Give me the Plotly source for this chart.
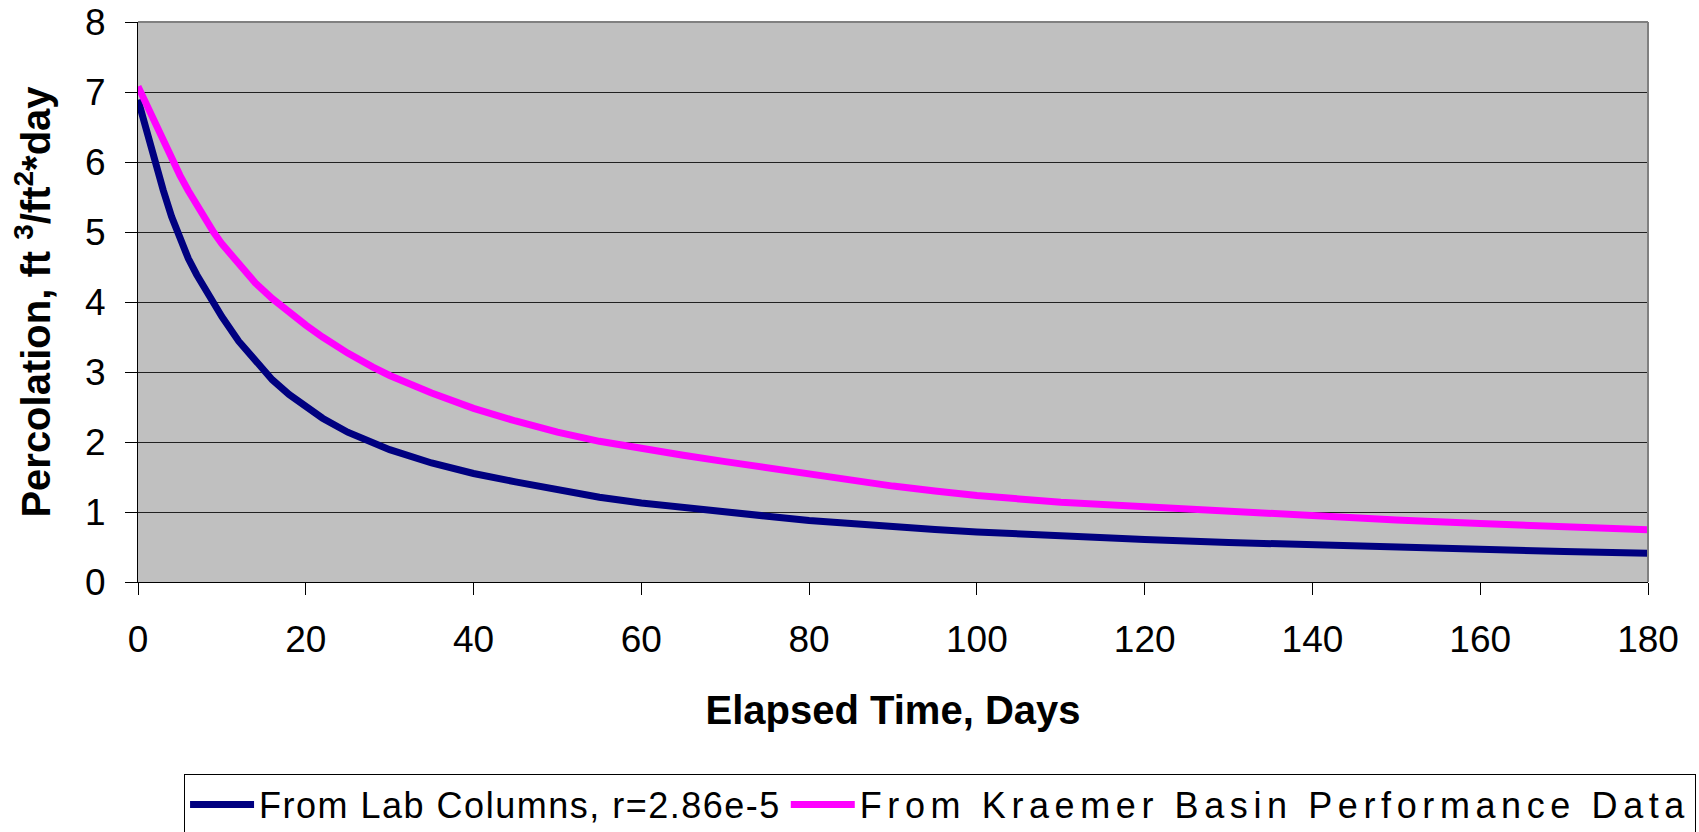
import plotly.graph_objects as go

# Elapsed time (days) at which each percolation value is tabulated
days = [0, 1, 2, 3, 4, 5, 6, 7, 8, 9, 10, 12, 14, 16, 18, 20, 22, 25, 28, 30,
        35, 40, 45, 50, 55, 60, 65, 70, 75, 80, 85, 90, 95, 100, 110, 120,
        130, 140, 150, 160, 170, 180]

# Percolation rate, ft3/ft2*day, predicted from the lab columns
lab_columns = [6.89, 6.43, 6.00, 5.60, 5.22, 4.90, 4.62, 4.39, 4.18, 3.98,
               3.79, 3.44, 3.15, 2.89, 2.68, 2.50, 2.34, 2.14, 1.98, 1.89,
               1.70, 1.55, 1.43, 1.32, 1.21, 1.13, 1.06, 1.00, 0.94, 0.88,
               0.83, 0.79, 0.75, 0.715, 0.655, 0.607, 0.565, 0.527, 0.493,
               0.462, 0.434, 0.41]

# Percolation rate from the Kraemer basin performance record
kraemer_basin = [7.08, 6.82, 6.56, 6.30, 6.05, 5.81, 5.59, 5.38, 5.19, 5.00,
                 4.83, 4.53, 4.27, 4.05, 3.85, 3.67, 3.50, 3.27, 3.07, 2.95,
                 2.70, 2.48, 2.30, 2.14, 2.01, 1.90, 1.81, 1.72, 1.63, 1.54,
                 1.45, 1.37, 1.30, 1.235, 1.14, 1.07, 1.00, 0.935, 0.885,
                 0.835, 0.79, 0.745]

series_names = ["From Lab Columns, r=2.86e-5",
                "From Kraemer Basin Performance Data"]
series_colors = ["#000080", "#FF00FF"]
# extra tracking so each legend entry spans the width of the printed key
series_tracking = [1.5, 5.6]

x_ticks = list(range(0, 181, 20))
y_ticks = list(range(0, 9))

FONT = "Liberation Sans, Arial, sans-serif"

fig = go.Figure()
for name, values, color, track in zip(series_names, [lab_columns, kraemer_basin],
                                       series_colors, series_tracking):
    fig.add_trace(go.Scatter(
        x=days, y=values, mode="lines",
        name=f'<span style="letter-spacing:{track}px">{name}</span>',
        line=dict(color=color, width=7),
    ))

fig.update_layout(
    width=1699, height=832,
    margin=dict(l=138, r=51, t=22, b=250, autoexpand=False),
    paper_bgcolor="white",
    plot_bgcolor="#C0C0C0",
    font=dict(family=FONT, size=36, color="black"),
    showlegend=True,
    legend=dict(
        orientation="h",
        x=0.0305, xanchor="left",
        y=-0.342, yanchor="top",
        bgcolor="white",
        bordercolor="#000000", borderwidth=1,
        font=dict(family=FONT, size=36, color="black"),
        itemwidth=64,
        tracegroupgap=0,
    ),
    xaxis=dict(
        range=[0, 180],
        tickvals=x_ticks,
        ticks="outside", ticklen=12, tickwidth=1, tickcolor="black",
        ticklabelstandoff=13,
        showgrid=False, zeroline=False,
        showline=True, linecolor="black", linewidth=1, mirror=False,
        tickfont=dict(family=FONT, size=37),
        title=dict(text="<b>Elapsed Time, Days</b>",
                   font=dict(family=FONT, size=40), standoff=36),
        automargin=False,
    ),
    yaxis=dict(
        range=[0, 8],
        tickvals=y_ticks,
        ticks="outside", ticklen=12, tickwidth=1, tickcolor="black",
        ticklabelstandoff=12,
        showgrid=True, gridcolor="#202020", gridwidth=1,
        zeroline=False,
        showline=True, linecolor="black", linewidth=1,
        tickfont=dict(family=FONT, size=37),
        title=dict(text="<b>Percolation, ft <sup>3</sup>/ft<sup>2</sup>*day</b>",
                   font=dict(family=FONT, size=40), standoff=22),
        automargin=False,
    ),
)

# Grey frame on the top and right sides of the plotting area
fig.add_shape(type="line", xref="paper", yref="paper", x0=0, x1=1, y0=1, y1=1,
              line=dict(color="#808080", width=2))
fig.add_shape(type="line", xref="paper", yref="paper", x0=1, x1=1, y0=0, y1=1,
              line=dict(color="#808080", width=2))

fig.write_html("out.html")
